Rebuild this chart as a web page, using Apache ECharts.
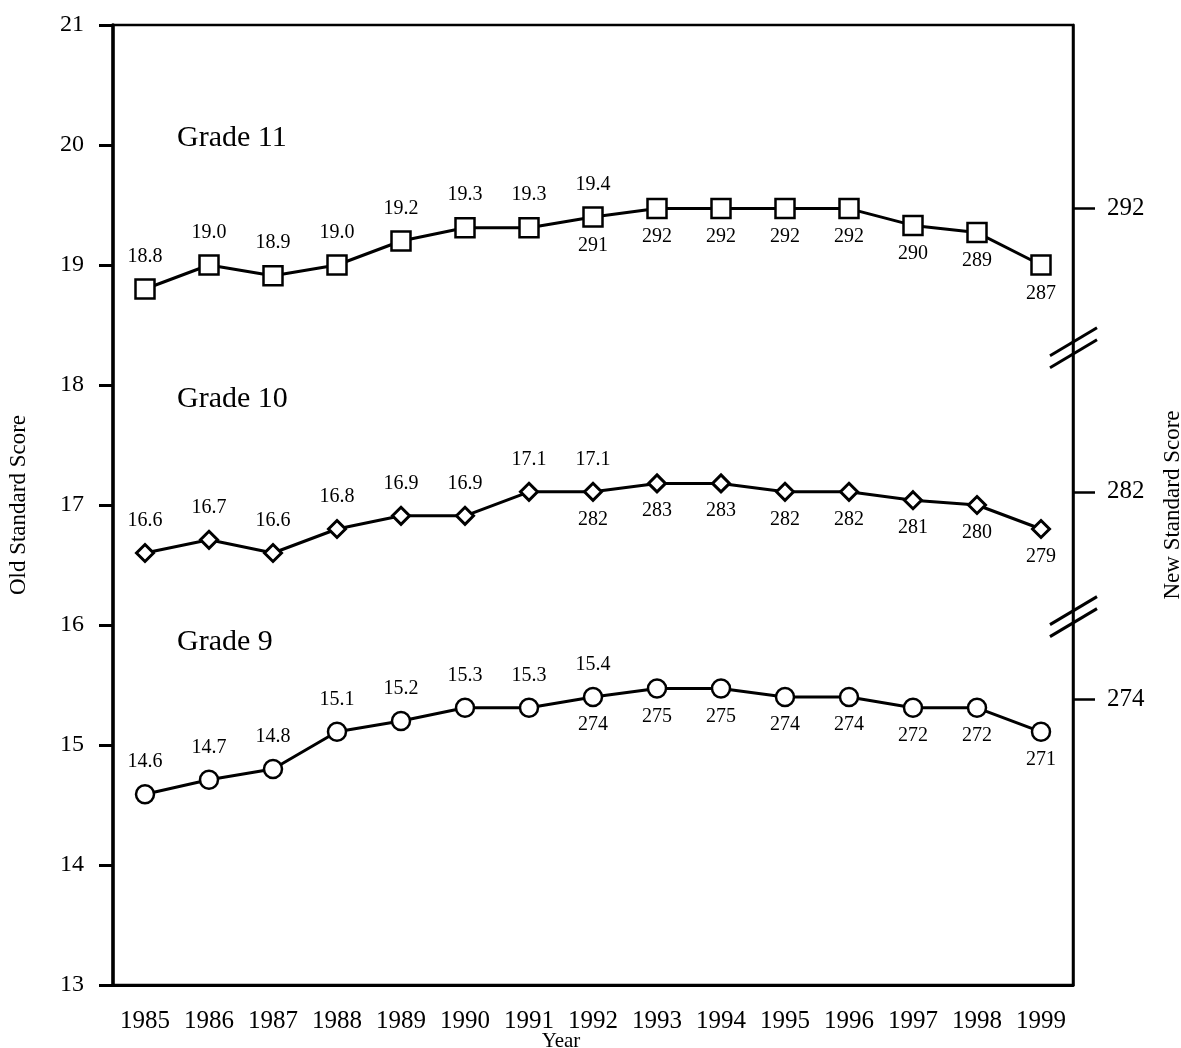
<!DOCTYPE html>
<html><head><meta charset="utf-8">
<script src="https://cdn.jsdelivr.net/npm/echarts@6/dist/echarts.min.js"></script>
<style>html,body{margin:0;padding:0;background:#fff;overflow:hidden}#c{width:1181px;height:1048px}</style>
</head><body><div id="c"></div>
<script>
// ---- data ----
const years = ['1985','1986','1987','1988','1989','1990','1991','1992','1993','1994','1995','1996','1997','1998','1999'];
// plotted values (old standard score units)
const grade11 = [18.8, 19.0, 18.91, 19.0, 19.2, 19.31, 19.31, 19.4, 19.47, 19.47, 19.47, 19.47, 19.33, 19.27, 19.0];
const grade10 = [16.6, 16.71, 16.6, 16.8, 16.91, 16.91, 17.11, 17.11, 17.18, 17.18, 17.11, 17.11, 17.04, 17.0, 16.8];
const grade9  = [14.59, 14.71, 14.8, 15.11, 15.2, 15.31, 15.31, 15.4, 15.47, 15.47, 15.4, 15.4, 15.31, 15.31, 15.11];
// labels: old standard score (above) and new standard score (below)
const grade11Old = ['18.8','19.0','18.9','19.0','19.2','19.3','19.3','19.4','','','','','','',''];
const grade11New = ['','','','','','','','291','292','292','292','292','290','289','287'];
const grade10Old = ['16.6','16.7','16.6','16.8','16.9','16.9','17.1','17.1','','','','','','',''];
const grade10New = ['','','','','','','','282','283','283','282','282','281','280','279'];
const grade9Old  = ['14.6','14.7','14.8','15.1','15.2','15.3','15.3','15.4','','','','','','',''];
const grade9New  = ['','','','','','','','274','275','275','274','274','272','272','271'];
// right axis (new standard score) ticks, positioned in old-score units
const newScaleTicks  = [19.47, 17.11, 15.38];
const newScaleLabels = ['292', '282', '274'];
const gradeNames = ['Grade 11', 'Grade 10', 'Grade 9'];
const gradeNamePos = [20.06, 17.88, 15.86];
const axisBreaks = [18.31, 16.07];

const FONT = "'Liberation Serif', 'Times New Roman', serif";
const chart = echarts.init(document.getElementById('c'), null, {renderer: 'canvas', width: 1181, height: 1048});

function mainSeries(data, oldLabels, symbol, size, bw) {
  return {
    type: 'line', data: data, symbol: symbol, symbolSize: size,
    lineStyle: {color: '#000', width: 3},
    itemStyle: {color: '#fff', borderColor: '#000', borderWidth: bw},
    label: {show: true, position: 'top', distance: 12, color: '#000', fontFamily: FONT, fontSize: 20,
      formatter: p => oldLabels[p.dataIndex]},
    emphasis: {disabled: true}, animation: false, z: 3
  };
}
function newLabelSeries(data, newLabels, size) {
  return {
    type: 'line', data: data, symbol: 'circle', symbolSize: size, silent: true,
    lineStyle: {opacity: 0},
    itemStyle: {color: 'transparent', borderWidth: 0},
    label: {show: true, position: 'bottom', distance: 9, color: '#000', fontFamily: FONT, fontSize: 20,
      formatter: p => newLabels[p.dataIndex]},
    emphasis: {disabled: true}, animation: false, z: 2
  };
}

chart.setOption({
  animation: false,
  backgroundColor: '#fff',
  grid: {left: 113, right: 108, top: 25, bottom: 63, show: true, borderColor: '#000', borderWidth: 2.5,
    containLabel: false, outerBoundsMode: 'none'},
  xAxis: {
    type: 'category', data: years, boundaryGap: true,
    name: 'Year', nameLocation: 'middle', nameGap: 46, nameMoveOverlap: false,
    nameTextStyle: {fontFamily: FONT, fontSize: 21, color: '#000', padding: [0, 64, 0, 0]},
    axisLine: {lineStyle: {color: '#000', width: 3}},
    axisTick: {alignWithLabel: true, length: 14, lineStyle: {color: '#000', width: 3}},
    axisLabel: {fontFamily: FONT, fontSize: 25, color: '#000', margin: 24, interval: 0},
    splitLine: {show: false}
  },
  yAxis: [{
    type: 'value', min: 13, max: 21, interval: 1, position: 'left',
    name: 'Old Standard Score', nameLocation: 'middle', nameGap: 83, nameMoveOverlap: false,
    nameTextStyle: {fontFamily: FONT, fontSize: 23, color: '#000'},
    axisLine: {show: true, lineStyle: {color: '#000', width: 3.5}},
    axisTick: {show: true, length: 14, lineStyle: {color: '#000', width: 3}},
    axisLabel: {fontFamily: FONT, fontSize: 24, color: '#000', margin: 29},
    splitLine: {show: false}
  }, {
    type: 'value', min: 13, max: 21, position: 'right',
    name: 'New Standard Score', nameLocation: 'middle', nameGap: 88, nameMoveOverlap: false,
    nameTextStyle: {fontFamily: FONT, fontSize: 23, color: '#000'},
    axisLine: {show: true, lineStyle: {color: '#000', width: 2.5}},
    axisTick: {show: true, length: 22, customValues: newScaleTicks, lineStyle: {color: '#000', width: 2.5}},
    axisLabel: {fontFamily: FONT, fontSize: 25, color: '#000', margin: 34, customValues: newScaleTicks,
      formatter: v => { const i = newScaleTicks.findIndex(t => Math.abs(t - v) < 1e-6); return i >= 0 ? newScaleLabels[i] : ''; }},
    splitLine: {show: false}
  }],
  series: [
    mainSeries(grade11, grade11Old, 'rect', 19, 2.5),
    mainSeries(grade10, grade10Old, 'diamond', 17, 3),
    mainSeries(grade9, grade9Old, 'circle', 18, 2.5),
    newLabelSeries(grade11, grade11New, 19),
    newLabelSeries(grade10, grade10New, 17),
    newLabelSeries(grade9, grade9New, 18)
  ]
});

// annotations: grade names and axis break marks, placed via the axis scales
const px = i => chart.convertToPixel({xAxisIndex: 0}, i);
const py = v => chart.convertToPixel({yAxisIndex: 0}, v);
const band = px(1) - px(0);
const xLeft = px(0) + band / 2;
const xRight = px(years.length - 1) + band / 2;
const graphics = [];
gradeNames.forEach((g, i) => {
  graphics.push({type: 'text', x: xLeft, y: py(gradeNamePos[i]), z: 10,
    style: {text: g, font: '30px ' + FONT, fill: '#000', verticalAlign: 'middle', align: 'left'}});
});
axisBreaks.forEach(v => {
  const yc = py(v);
  [-6, 6].forEach(off => {
    graphics.push({type: 'line', z: 10,
      shape: {x1: xRight - 23, y1: yc + off + 14, x2: xRight + 24, y2: yc + off - 14},
      style: {stroke: '#000', lineWidth: 3}});
  });
});
chart.setOption({graphic: graphics});
</script>
</body></html>
